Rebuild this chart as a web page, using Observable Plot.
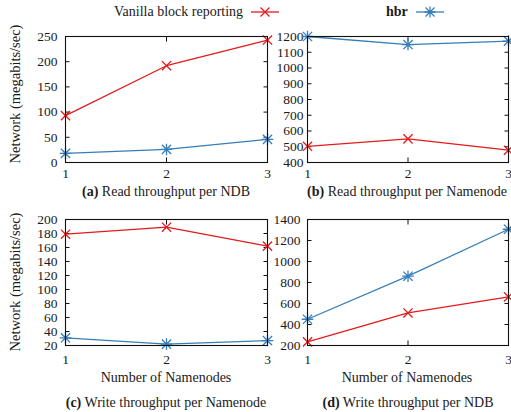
<!DOCTYPE html>
<html>
<head>
<meta charset="utf-8">
<script src="https://cdn.jsdelivr.net/npm/d3@7"></script>
<script src="https://cdn.jsdelivr.net/npm/@observablehq/plot@0.6"></script>
<style>
  body { margin: 0; background: #fff; }
  #fig { position: relative; width: 511px; height: 412px; font-family: "Liberation Serif", serif; color: #1a1a1a; overflow: hidden; }
  .abs { position: absolute; white-space: nowrap; line-height: 1; }
  .ctr { transform: translate(-50%, -50%); }
  .ytitle { transform: translate(-50%, -50%) rotate(-90deg); font-size: 14.5px; }
  .xtitle { font-size: 14px; }
  .cap { font-size: 14px; }
  .legend { font-size: 14px; display: flex; align-items: center; }
  svg.panel { position: absolute; overflow: visible; }
</style>
</head>
<body>
<div id="fig"></div>
<script>
// Number of Namenodes on the x axis
const nodes = [1, 2, 3];
const seriesNames = ["Vanilla block reporting", "hbr"];
const seriesColors = ["#e41a1c", "#377eb8"];

// (a) Read throughput per NDB
const readNdbVanilla = [93, 192, 243];
const readNdbHbr = [18, 26, 46];
const ticksA = [0, 50, 100, 150, 200, 250];
// (b) Read throughput per Namenode
const readNnVanilla = [503, 550, 478];
const readNnHbr = [1200, 1149, 1171];
const ticksB = [400, 500, 600, 700, 800, 900, 1000, 1100, 1200];
// (c) Write throughput per Namenode
const writeNnVanilla = [179, 189, 162];
const writeNnHbr = [31, 22, 27];
const ticksC = [20, 40, 60, 80, 100, 120, 140, 160, 180, 200];
// (d) Write throughput per NDB
const writeNdbVanilla = [234, 510, 663];
const writeNdbHbr = [450, 860, 1307];
const ticksD = [200, 400, 600, 800, 1000, 1200, 1400];

const captions = [
  ["(a)", "Read throughput per NDB"],
  ["(b)", "Read throughput per Namenode"],
  ["(c)", "Write throughput per Namenode"],
  ["(d)", "Write throughput per NDB"]
];
const yTitle = "Network (megabits/sec)";
const xTitle = "Number of Namenodes";

// gnuplot-style point types: a cross, and a cross overlaid with a plus
const crossSymbol = {
  draw(ctx, size) {
    const r = Math.sqrt(size / Math.PI);
    ctx.moveTo(-r, -r); ctx.lineTo(r, r);
    ctx.moveTo(-r, r); ctx.lineTo(r, -r);
  }
};
const starSymbol = {
  draw(ctx, size) {
    const r = Math.sqrt(size / Math.PI);
    const p = r * 1.25;
    ctx.moveTo(-r, -r); ctx.lineTo(r, r);
    ctx.moveTo(-r, r); ctx.lineTo(r, -r);
    ctx.moveTo(-p, 0); ctx.lineTo(p, 0);
    ctx.moveTo(0, -p); ctx.lineTo(0, p);
  }
};
const symbols = [crossSymbol, starSymbol];

const fig = document.getElementById("fig");

function addText(html, cls, x, y) {
  const d = document.createElement("div");
  d.className = "abs " + cls;
  d.style.left = x + "px";
  d.style.top = y + "px";
  d.innerHTML = html;
  fig.appendChild(d);
  return d;
}

function panel({vanilla, hbr, yDomain, yTicks, left, top, width, height, ml, mr, mt, mb, yPad, xPad}) {
  const rows = [];
  nodes.forEach((n, i) => {
    rows.push({n, value: vanilla[i], series: 0});
    rows.push({n, value: hbr[i], series: 1});
  });
  const marks = [];
  [0, 1].forEach(s => {
    const sub = rows.filter(d => d.series === s);
    marks.push(Plot.line(sub, {x: "n", y: "value", stroke: seriesColors[s], strokeWidth: 1.3}));
    marks.push(Plot.dot(sub, {x: "n", y: "value", symbol: symbols[s], r: 4.6, fill: "none", stroke: seriesColors[s], strokeWidth: 1.3}));
  });
  const tick = {tickSize: -4.5, stroke: "#111", fill: "none", label: null};
  const text = {tickSize: 0, stroke: "none", fill: "#1a1a1a", label: null, tickFormat: d3.format("d")};
  const chart = Plot.plot({
    width, height,
    marginLeft: ml, marginRight: mr, marginTop: mt, marginBottom: mb,
    x: {domain: [1, 3]},
    y: {domain: yDomain},
    style: {fontFamily: "Liberation Serif, serif", fontSize: "13.5px", color: "#1a1a1a", background: "transparent", overflow: "visible"},
    marks: [
      Plot.axisX(nodes, {anchor: "bottom", ...tick}),
      Plot.axisX(nodes, {anchor: "top", ...tick}),
      Plot.axisY(yTicks, {anchor: "left", ...tick}),
      Plot.axisY(yTicks, {anchor: "right", ...tick}),
      Plot.axisX(nodes, {anchor: "bottom", ...text, tickPadding: xPad}),
      Plot.axisY(yTicks, {anchor: "left", ...text, tickPadding: yPad}),
      ...marks,
      Plot.frame({stroke: "#111", strokeWidth: 1.1})
    ]
  });
  chart.classList.add("panel");
  chart.style.left = left + "px";
  chart.style.top = top + "px";
  fig.appendChild(chart);
}

panel({vanilla: readNdbVanilla, hbr: readNdbHbr, yDomain: [0, 250], yTicks: ticksA,
  left: 0, top: 25, width: 272, height: 165, ml: 65, mr: 5, mt: 11, mb: 28, yPad: 8, xPad: 6});
panel({vanilla: readNnVanilla, hbr: readNnHbr, yDomain: [400, 1200], yTicks: ticksB,
  left: 270, top: 25, width: 241, height: 165, ml: 37, mr: 3, mt: 11, mb: 28, yPad: 4, xPad: 6});
panel({vanilla: writeNnVanilla, hbr: writeNnHbr, yDomain: [20, 200], yTicks: ticksC,
  left: 0, top: 205, width: 272, height: 155, ml: 65, mr: 5, mt: 14, mb: 15, yPad: 8, xPad: 9});
panel({vanilla: writeNdbVanilla, hbr: writeNdbHbr, yDomain: [200, 1400], yTicks: ticksD,
  left: 270, top: 205, width: 241, height: 155, ml: 37, mr: 3, mt: 14, mb: 15, yPad: 7, xPad: 9});

// axis titles and sub-captions
addText(yTitle, "ytitle", 15, 94);
addText(yTitle, "ytitle", 15, 282);
addText(xTitle, "xtitle ctr", 166, 378);
addText(xTitle, "xtitle ctr", 407, 378);
const capPos = [[166, 192], [407, 192], [166, 403], [408, 403]];
captions.forEach(([tag, text], i) => {
  addText(`<b>${tag}</b> ${text}`, "cap ctr", capPos[i][0], capPos[i][1]);
});

// legend
function swatch(s) {
  const c = seriesColors[s];
  const mark = s === 0
    ? `<path d="M9.5,-4.5L18.5,4.5M9.5,4.5L18.5,-4.5"/>`
    : `<path d="M9.5,-4.5L18.5,4.5M9.5,4.5L18.5,-4.5M8.5,0H19.5M14,-5.5V5.5"/>`;
  return `<svg width="28" height="12" viewBox="0 -6 28 12" style="margin-left:8px"><g stroke="${c}" stroke-width="1.3" fill="none"><path d="M0,0H28"/>${mark}</g></svg>`;
}
addText(`<span>${seriesNames[0]}</span>${swatch(0)}`, "legend", 114, 5);
addText(`<b>${seriesNames[1]}</b>${swatch(1)}`, "legend", 386, 5);
</script>
</body>
</html>
